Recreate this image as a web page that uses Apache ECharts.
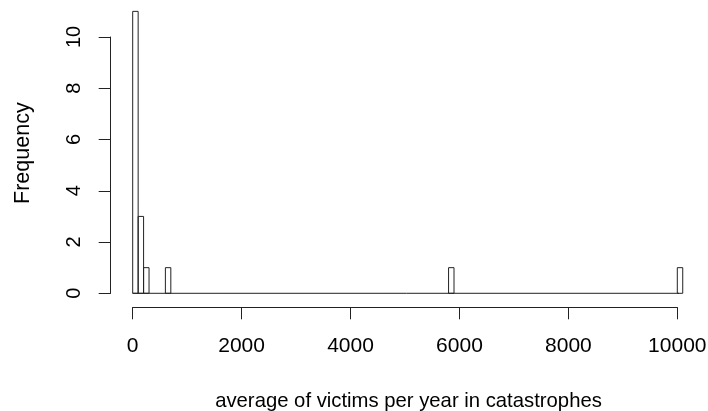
<!DOCTYPE html>
<html>
<head>
<meta charset="utf-8">
<script src="https://cdn.jsdelivr.net/npm/echarts@6/dist/echarts.min.js"></script>
<style>
  html, body { margin: 0; padding: 0; background: #fff; }
  #chart { width: 708px; height: 411px; }
</style>
</head>
<body>
<div id="chart"></div>
<script>
// histogram bins with a non-zero count (bin width 100)
var binStarts = [0, 100, 200, 600, 5800, 10000];
var binCounts = [11, 3, 1, 1, 1, 1];
var binWidth = 100;
var breaksRange = [0, 10100];

var xTicks = [0, 2000, 4000, 6000, 8000, 10000];
var yTicks = [0, 2, 4, 6, 8, 10];

var xTitle = 'average of victims per year in catastrophes';
var yTitle = 'Frequency';

var font = '"Liberation Sans", Arial, sans-serif';
var lineColor = '#222';

var bins = [];
for (var i = 0; i < binStarts.length; i++) {
    bins.push([binStarts[i], binStarts[i] + binWidth, binCounts[i]]);
}

var myChart = echarts.init(document.getElementById('chart'), null, {renderer: 'canvas'});

var option = {
    animation: false,
    backgroundColor: '#fff',
    grid: {
        left: 132.7,
        right: 30.7,
        top: 37,
        bottom: 117.7,
        containLabel: false,
        outerBoundsMode: 'none'
    },
    xAxis: {
        type: 'value',
        min: xTicks[0],
        max: xTicks[xTicks.length - 1],
        interval: 2000,
        offset: 14,
        splitLine: {show: false},
        axisLine: {show: true, onZero: false, lineStyle: {color: lineColor, width: 1}},
        axisTick: {show: true, length: 12, lineStyle: {color: lineColor, width: 1}},
        axisLabel: {
            color: '#000',
            fontFamily: font,
            fontSize: 21,
            margin: 28,
            showMinLabel: true,
            showMaxLabel: true,
            formatter: function (v) { return String(v); }
        },
        name: xTitle,
        nameLocation: 'middle',
        nameGap: 84,
        nameTextStyle: {color: '#000', fontFamily: font, fontSize: 20.3, padding: [0, 0, 0, 7]}
    },
    yAxis: {
        type: 'value',
        min: yTicks[0],
        max: yTicks[yTicks.length - 1],
        interval: 2,
        offset: 22,
        splitLine: {show: false},
        axisLine: {show: true, onZero: false, lineStyle: {color: lineColor, width: 1}},
        axisTick: {show: true, length: 12, lineStyle: {color: lineColor, width: 1}},
        axisLabel: {
            color: '#000',
            fontFamily: font,
            fontSize: 20,
            rotate: 90,
            margin: 26,
            formatter: function (v) { return String(v); }
        },
        name: yTitle,
        nameLocation: 'middle',
        nameGap: 77,
        nameTextStyle: {color: '#000', fontFamily: font, fontSize: 21.5, padding: [0, 0, 0, 24]}
    },
    series: [
        {
            // baseline under all the (empty) bins
            type: 'line',
            data: [[breaksRange[0], 0], [breaksRange[1], 0]],
            symbol: 'none',
            clip: false,
            silent: true,
            lineStyle: {color: lineColor, width: 1}
        },
        {
            type: 'custom',
            clip: false,
            data: bins,
            renderItem: function (params, api) {
                var p0 = api.coord([api.value(0), api.value(2)]);
                var p1 = api.coord([api.value(1), 0]);
                return {
                    type: 'rect',
                    shape: {x: p0[0], y: p0[1], width: p1[0] - p0[0], height: p1[1] - p0[1]},
                    style: {fill: 'none', stroke: lineColor, lineWidth: 1}
                };
            }
        }
    ]
};

myChart.setOption(option);
</script>
</body>
</html>
